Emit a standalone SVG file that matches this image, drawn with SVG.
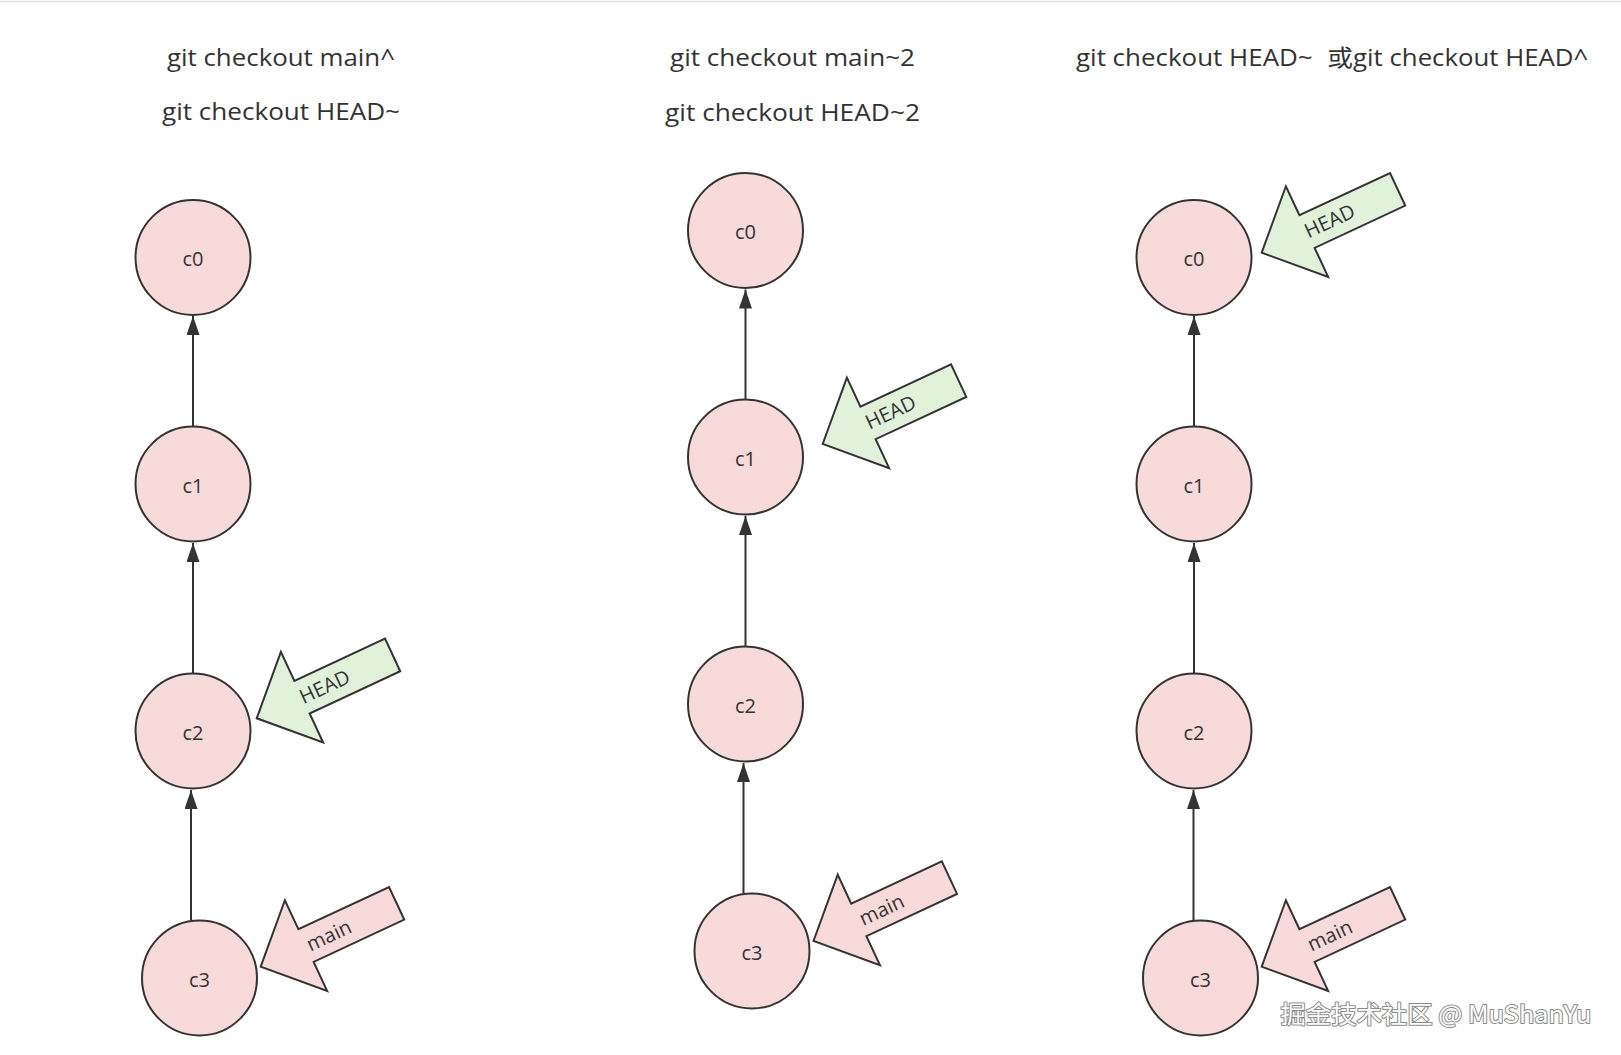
<svg xmlns="http://www.w3.org/2000/svg" xmlns:xlink="http://www.w3.org/1999/xlink" width="1621" height="1055" viewBox="0 0 1621 1055">
  <style>
    .title { font-family: "Open Sans", "Noto Sans CJK SC", sans-serif; font-size: 23px; fill: #333333; text-anchor: middle; }
    .titleL { font-family: "Open Sans", "Noto Sans CJK SC", sans-serif; font-size: 23px; fill: #333333; text-anchor: start; }
    .commit circle { fill: #f9dada; stroke: #333333; stroke-width: 2; }
    .commit text { font-family: "Open Sans", sans-serif; font-size: 20px; fill: #333333; text-anchor: middle; }
    .ptr text { font-family: "Open Sans", sans-serif; font-size: 20px; fill: #333333; text-anchor: middle; }
    .head use { fill: #e0f3da; }
    .main use { fill: #f9dada; }
    .edge { stroke: #333333; stroke-width: 2; fill: none; marker-end: url(#tri); }
    .wm { font-family: "Noto Sans CJK SC", "Open Sans", sans-serif; font-size: 24px; fill: #ffffff; stroke: #8a8a8a; stroke-width: 2; paint-order: stroke; stroke-linejoin: round; }
  </style>
  <defs>
    <marker id="tri" markerUnits="userSpaceOnUse" markerWidth="20" markerHeight="14" refX="19" refY="6.5" orient="auto">
      <path d="M0,0 L19,6.5 L0,13 Z" fill="#333333"/>
    </marker>
    <polygon id="ptrshape" points="0,0 50,-50 50,-18 150,-18 150,18 50,18 50,50" stroke="#333333" stroke-width="2" stroke-linejoin="miter"/>
  </defs>
  <rect width="1621" height="1055" fill="#ffffff"/>
  <line x1="0" y1="1.5" x2="1621" y2="1.5" stroke="#e2e2e2" stroke-width="1.5"/>

  <g id="titles">
    <text class="title" x="281" y="66" textLength="228" lengthAdjust="spacingAndGlyphs">git checkout main^</text>
    <text class="title" x="281" y="120" textLength="238" lengthAdjust="spacingAndGlyphs">git checkout HEAD~</text>
    <text class="title" x="792.5" y="66" textLength="245" lengthAdjust="spacingAndGlyphs">git checkout main~2</text>
    <text class="title" x="792.5" y="121" textLength="255" lengthAdjust="spacingAndGlyphs">git checkout HEAD~2</text>
    <text class="titleL" y="66"><tspan x="1076" textLength="236.7" lengthAdjust="spacingAndGlyphs">git checkout HEAD~</tspan><tspan x="1327.3" textLength="261" lengthAdjust="spacingAndGlyphs">或git checkout HEAD^</tspan></text>
  </g>

  <g id="connectors">
    <line class="edge" x1="193" y1="426.5" x2="193" y2="316"/>
    <line class="edge" x1="193" y1="673.5" x2="193" y2="543"/>
    <line class="edge" x1="191" y1="920.5" x2="191" y2="790"/>
    <line class="edge" x1="745.5" y1="400" x2="745.5" y2="289.5"/>
    <line class="edge" x1="745.5" y1="646.5" x2="745.5" y2="516"/>
    <line class="edge" x1="743.5" y1="893.5" x2="743.5" y2="763"/>
    <line class="edge" x1="1194" y1="426.5" x2="1194" y2="316"/>
    <line class="edge" x1="1194" y1="673.5" x2="1194" y2="543"/>
    <line class="edge" x1="1193.5" y1="920.5" x2="1193.5" y2="790"/>
  </g>

  <g id="col1-c0" class="commit"><circle cx="193" cy="257.5" r="57.5"/><text x="193" y="266">c0</text></g>
  <g id="col1-c1" class="commit"><circle cx="193" cy="484" r="57.5"/><text x="193" y="492.5">c1</text></g>
  <g id="col1-c2" class="commit"><circle cx="193" cy="731" r="57.5"/><text x="193" y="739.5">c2</text></g>
  <g id="col1-c3" class="commit"><circle cx="199.5" cy="978" r="57.5"/><text x="199.5" y="986.5">c3</text></g>

  <g id="col2-c0" class="commit"><circle cx="745.5" cy="230.5" r="57.5"/><text x="745.5" y="239">c0</text></g>
  <g id="col2-c1" class="commit"><circle cx="745.5" cy="457" r="57.5"/><text x="745.5" y="465.5">c1</text></g>
  <g id="col2-c2" class="commit"><circle cx="745.5" cy="704" r="57.5"/><text x="745.5" y="712.5">c2</text></g>
  <g id="col2-c3" class="commit"><circle cx="752" cy="951" r="57.5"/><text x="752" y="959.5">c3</text></g>

  <g id="col3-c0" class="commit"><circle cx="1194" cy="257.5" r="57.5"/><text x="1194" y="266">c0</text></g>
  <g id="col3-c1" class="commit"><circle cx="1194" cy="484" r="57.5"/><text x="1194" y="492.5">c1</text></g>
  <g id="col3-c2" class="commit"><circle cx="1194" cy="731" r="57.5"/><text x="1194" y="739.5">c2</text></g>
  <g id="col3-c3" class="commit"><circle cx="1200.5" cy="978" r="57.5"/><text x="1200.5" y="986.5">c3</text></g>

  <g id="col1-head" class="ptr head" transform="translate(256.7,718.3) rotate(-25)"><use xlink:href="#ptrshape"/><text x="75" y="7">HEAD</text></g>
  <g id="col1-main" class="ptr main" transform="translate(260.7,966.7) rotate(-25)"><use xlink:href="#ptrshape"/><text x="75" y="7.5">main</text></g>
  <g id="col2-head" class="ptr head" transform="translate(822.7,444) rotate(-25)"><use xlink:href="#ptrshape"/><text x="75" y="7">HEAD</text></g>
  <g id="col2-main" class="ptr main" transform="translate(813.5,941) rotate(-25)"><use xlink:href="#ptrshape"/><text x="75" y="7.5">main</text></g>
  <g id="col3-head" class="ptr head" transform="translate(1261.7,252.7) rotate(-25)"><use xlink:href="#ptrshape"/><text x="75" y="7">HEAD</text></g>
  <g id="col3-main" class="ptr main" transform="translate(1261.7,966.7) rotate(-25)"><use xlink:href="#ptrshape"/><text x="75" y="7.5">main</text></g>

  <g id="watermark">
    <text class="wm" x="1280.5" y="1023" textLength="311" lengthAdjust="spacingAndGlyphs">掘金技术社区 @ MuShanYu</text>
  </g>
</svg>
